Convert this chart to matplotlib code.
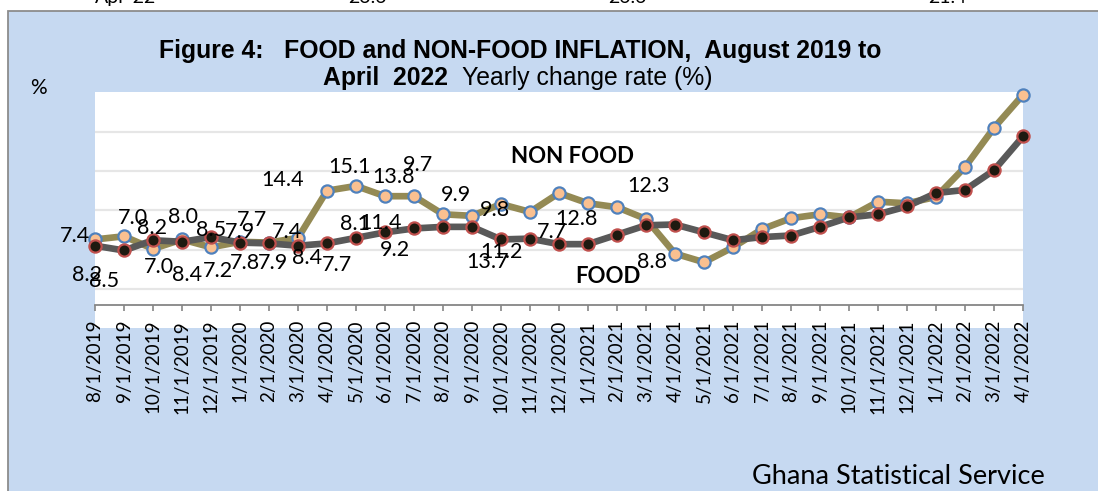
import matplotlib
matplotlib.use("Agg")
import matplotlib.pyplot as plt
from matplotlib.patches import Rectangle
import pandas as pd

# Datos
# ========================================
months = pd.date_range("2019-08-01", periods=33, freq="MS")
categories = [f"{d.month}/{d.day}/{d.year}" for d in months]

non_food = [11.3, 11.7, 10.1, 11.3, 10.3, 11.0, 10.9, 11.5, 17.5, 18.1,
            16.8, 16.8, 14.5, 14.3, 15.8, 14.8, 17.2, 15.9, 15.4, 13.9,
            9.5, 8.4, 10.3, 12.6, 14.0, 14.5, 14.1, 16.1, 15.9, 16.7,
            20.5, 25.5, 29.7]
food = [10.5, 9.9, 11.2, 11.0, 11.6, 10.9, 10.8, 10.5, 10.8, 11.5,
        12.2, 12.7, 12.9, 12.9, 11.3, 11.4, 10.7, 10.7, 11.9, 13.1,
        13.2, 12.2, 11.2, 11.6, 11.8, 12.9, 14.1, 14.5, 15.5, 17.2,
        17.6, 20.1, 24.4]

# Etiquetas de datos tal como aparecen (texto, posicion x, posicion y)
data_labels = [
    ("7.4", -0.69, 11.74), ("8.2", -0.28, 6.78), ("8.5", 0.30, 6.06),
    ("7.0", 1.31, 14.03), ("8.2", 1.97, 12.76), ("7.0", 2.21, 7.80),
    ("8.0", 3.03, 14.16), ("8.4", 3.17, 6.78), ("8.5", 4.00, 12.51),
    ("7.2", 4.24, 7.29), ("7.9", 5.00, 12.25), ("7.7", 5.41, 13.78),
    ("7.8", 5.17, 8.31), ("7.9", 6.14, 8.31), ("7.4", 6.62, 12.25),
    ("14.4", 6.48, 18.87), ("8.4", 7.31, 8.94), ("7.7", 8.34, 8.05),
    ("15.1", 8.79, 20.52), ("8.1", 8.97, 13.27), ("11.4", 9.86, 13.40),
    ("13.8", 10.28, 19.25), ("9.7", 11.14, 20.78), ("9.2", 10.34, 9.96),
    ("9.9", 12.45, 16.96), ("9.8", 13.79, 15.05), ("11.2", 14.03, 9.71),
    ("13.7", 13.55, 8.44), ("7.7", 15.76, 12.25), ("12.8", 16.62, 13.91),
    ("12.3", 19.10, 18.10), ("8.8", 19.21, 8.44),
]

header_texts = ["Apr-22", "23.6", "26.6", "21.4"]

# Figura
# ========================================
W, H = 1098, 491
fig = plt.figure(figsize=(W / 100, H / 100), dpi=100)
fig.patch.set_facecolor("white")

# Fondo azul del grafico de Excel
bg = Rectangle((8 / W, -0.01), 1.0, (H - 11) / H + 0.01, transform=fig.transFigure,
               facecolor="#C6D9F1", edgecolor="#8C8C8C", linewidth=1.3, zorder=-10)
fig.patches.append(bg)

# Restos de la tabla superior (cortados)
for txt, px in zip(header_texts, [126, 367, 627, 947]):
    fig.text(px / W, 1 - 3 / H, txt, ha="center", va="baseline",
             fontsize=14, family="Lato")

ax = fig.add_axes([95 / W, 1 - 328.3 / H, 928 / W, (328.3 - 92.4) / H])
ax.set_facecolor("white")
ax.set_xlim(0, len(categories) - 1)
ax.set_ylim(0, 30)

x = list(range(len(categories)))
ax.plot(x, non_food, color="#948A54", lw=4.8, marker="o", ms=8.8,
        mfc="#FAC090", mec="#4F81BD", mew=1.6, clip_on=False, zorder=3)
ax.plot(x, food, color="#595959", lw=4.8, marker="o", ms=8.8,
        mfc="#1E1A10", mec="#C0504D", mew=1.6, clip_on=False, zorder=4)

# Rejilla y ejes
ax.set_yticks([5, 10, 15, 20, 25])
ax.yaxis.grid(True, color="#E6E6E6", lw=1.6)
ax.set_axisbelow(True)
ax.tick_params(axis="y", left=False, labelleft=False)
for s in ["left", "right", "top"]:
    ax.spines[s].set_visible(False)
ax.spines["bottom"].set_position(("data", 3))
ax.spines["bottom"].set_color("#868686")
ax.spines["bottom"].set_linewidth(1.3)
ax.set_xticks(x)
ax.set_xticklabels(categories, rotation=90, va="top", ha="center",
                   family="Lato", fontsize=13.5)
ax.tick_params(axis="x", direction="out", length=4, width=1.2,
               color="#868686", pad=7)

for txt, lx, ly in data_labels:
    ax.text(lx, ly, txt, ha="center", va="center", fontsize=15.5,
            family="Lato", zorder=5)
ax.text(16.48, 21.79, "NON FOOD", ha="center", va="center", fontsize=16,
        family="Lato", fontweight="bold", zorder=5)
ax.text(17.69, 6.55, "FOOD", ha="center", va="center", fontsize=16,
        family="Lato", fontweight="bold", zorder=5)

# Titulo
fig.text(520 / W, 1 - 51 / H, "Figure 4:   FOOD and NON-FOOD INFLATION,  August 2019 to",
         ha="center", va="center", fontsize=17.8, fontweight="bold",
         family="Liberation Sans")
fig.text(448 / W, 1 - 78 / H, "April  2022", ha="right", va="center",
         fontsize=17.8, fontweight="bold", family="Liberation Sans")
fig.text(462 / W, 1 - 78 / H, "Yearly change rate (%)", ha="left", va="center",
         fontsize=17.8, family="Liberation Sans")
fig.text(38 / W, 1 - 88 / H, "%", ha="center", va="center", fontsize=15,
         family="Lato")

fig.text(1045 / W, 1 - 477 / H, "Ghana Statistical Service", ha="right",
         va="center", fontsize=19.5, family="Lato")

fig.savefig("out.png", dpi=100)
